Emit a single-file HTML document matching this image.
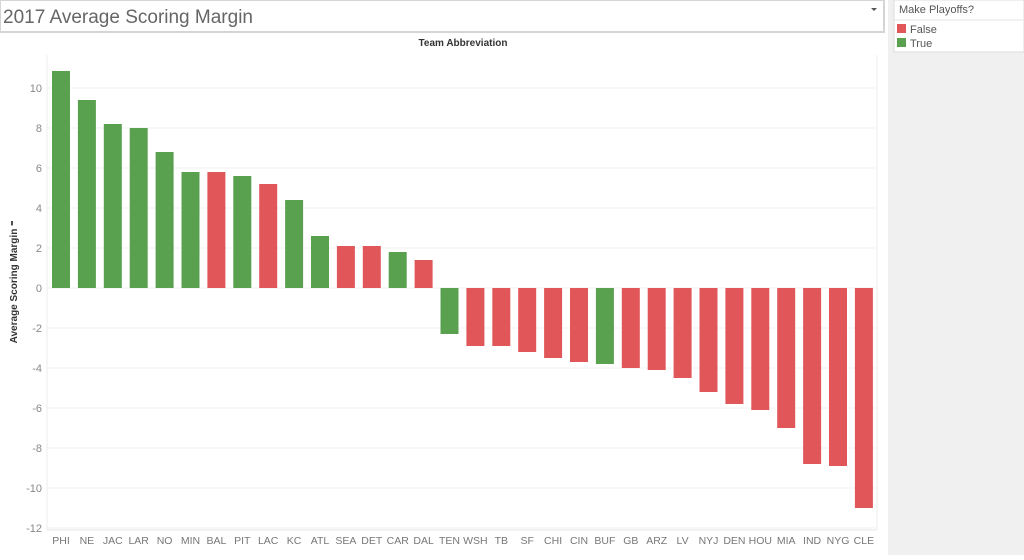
<!DOCTYPE html><html><head><style>body{margin:0;width:1024px;height:555px;overflow:hidden;background:#fff;font-family:"Liberation Sans",sans-serif}</style></head><body>
<svg width="1024" height="555" xmlns="http://www.w3.org/2000/svg" font-family="Liberation Sans, sans-serif">
<rect x="0" y="0" width="1024" height="555" fill="#fff"/>
<rect x="0" y="0" width="884" height="32" fill="#fff" stroke="#d4d4d4" stroke-width="2"/>
<text x="3" y="23" font-size="19" fill="#666">2017 Average Scoring Margin</text>
<path d="M871 8 l6 0 l-3 3 z" fill="#555"/>
<rect x="888" y="0" width="136" height="555" fill="#f0f0f0"/>
<rect x="894" y="0" width="130" height="52" fill="#fff" stroke="#dcdcdc"/>
<line x1="894" y1="20" x2="1024" y2="20" stroke="#e6e6e6"/>
<text x="899" y="13" font-size="11" fill="#555">Make Playoffs?</text>
<rect x="897" y="24" width="9" height="9" fill="#e15759"/><text x="910" y="33" font-size="11" fill="#555">False</text>
<rect x="897" y="38" width="9" height="9" fill="#59a14f"/><text x="910" y="47" font-size="11" fill="#555">True</text>
<text x="463" y="46" font-size="10" font-weight="bold" fill="#333" text-anchor="middle">Team Abbreviation</text>
<text transform="translate(17,282) rotate(-90)" font-size="10" font-weight="bold" fill="#333" text-anchor="middle">Average Scoring Margin ⁼</text>
<g id="g"></g>
<line x1="47" y1="55" x2="47" y2="530" stroke="#eee"/>
<line x1="47" y1="530" x2="877" y2="530" stroke="#e4e4e4"/>
<line x1="877" y1="55" x2="877" y2="530" stroke="#eee"/>
</svg>
<script>
var g=document.getElementById('g'),ns='http://www.w3.org/2000/svg',s='';
for(var v=-12;v<=10;v+=2){var y=288-v*20;s+='<line x1="47" x2="877" y1="'+y+'" y2="'+y+'" stroke="#f0f0f0"/><text x="42" y="'+(y+4)+'" font-size="11" fill="#888" text-anchor="end">'+(v<0?'-'+(-v):v)+'</text>';}
var d=[["PHI",10.85,1],["NE",9.4,1],["JAC",8.2,1],["LAR",8.0,1],["NO",6.8,1],["MIN",5.8,1],["BAL",5.8,0],["PIT",5.6,1],["LAC",5.2,0],["KC",4.4,1],["ATL",2.6,1],["SEA",2.1,0],["DET",2.1,0],["CAR",1.8,1],["DAL",1.4,0],["TEN",-2.3,1],["WSH",-2.9,0],["TB",-2.9,0],["SF",-3.2,0],["CHI",-3.5,0],["CIN",-3.7,0],["BUF",-3.8,1],["GB",-4.0,0],["ARZ",-4.1,0],["LV",-4.5,0],["NYJ",-5.2,0],["DEN",-5.8,0],["HOU",-6.1,0],["MIA",-7.0,0],["IND",-8.8,0],["NYG",-8.9,0],["CLE",-11.0,0]];
d.forEach(function(r,i){var c=61+i*25.9,h=Math.abs(r[1])*20,y=r[1]>0?288-h:288;
s+='<rect x="'+(c-9)+'" y="'+y+'" width="18" height="'+h+'" fill="'+(r[2]?'#59a14f':'#e15759')+'"/>';
s+='<text x="'+c+'" y="544" font-size="10.5" fill="#777" text-anchor="middle">'+r[0]+'</text>';});
g.innerHTML=s;
</script>
</body></html>
